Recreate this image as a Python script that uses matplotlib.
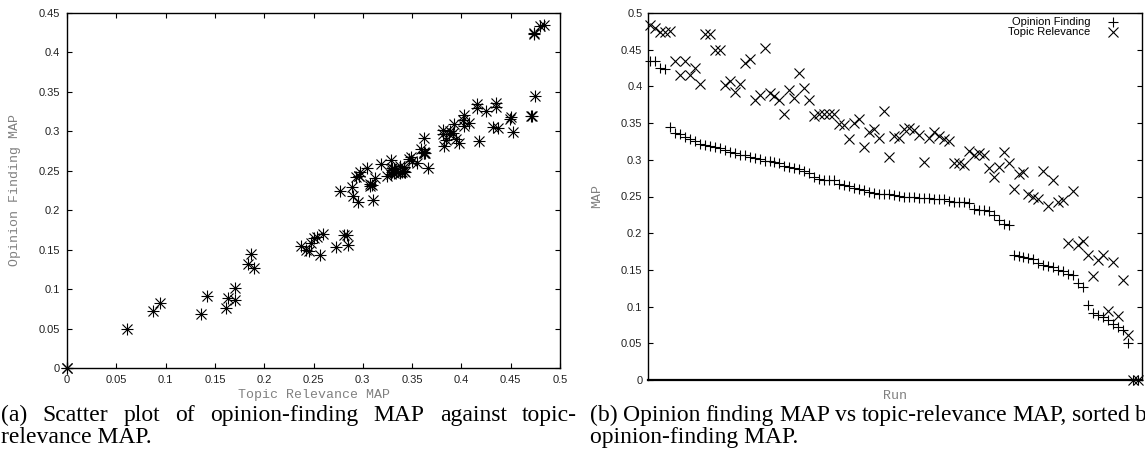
import matplotlib
matplotlib.use("Agg")
import matplotlib.pyplot as plt
import numpy as np

# MAP per run, sorted by opinion-finding MAP (same runs in both panels)
opinion_map = [
    0.435, 0.434, 0.425, 0.424, 0.345, 0.336, 0.335, 0.331, 0.329, 0.326,
    0.321, 0.320, 0.319, 0.318, 0.316, 0.314, 0.311, 0.309, 0.307, 0.306,
    0.304, 0.302, 0.301, 0.299, 0.298, 0.297, 0.296, 0.291, 0.290, 0.289,
    0.288, 0.285, 0.282, 0.277, 0.274, 0.273, 0.273, 0.272, 0.267, 0.265,
    0.264, 0.262, 0.260, 0.259, 0.256, 0.255, 0.254, 0.254, 0.253, 0.252,
    0.251, 0.250, 0.249, 0.249, 0.248, 0.248, 0.248, 0.247, 0.247, 0.246,
    0.244, 0.243, 0.243, 0.242, 0.241, 0.233, 0.232, 0.231, 0.230, 0.225,
    0.218, 0.213, 0.211, 0.170, 0.169, 0.168, 0.166, 0.165, 0.159, 0.156,
    0.155, 0.154, 0.150, 0.148, 0.145, 0.143, 0.132, 0.127, 0.102, 0.091,
    0.089, 0.086, 0.082, 0.076, 0.072, 0.068, 0.050, 0.0, 0.0,
]
topic_map = [
    0.484, 0.480, 0.474, 0.474, 0.475, 0.435, 0.416, 0.435, 0.416, 0.425,
    0.403, 0.472, 0.471, 0.450, 0.449, 0.402, 0.408, 0.392, 0.403, 0.432,
    0.437, 0.381, 0.388, 0.452, 0.391, 0.387, 0.381, 0.362, 0.395, 0.384,
    0.418, 0.398, 0.382, 0.359, 0.362, 0.363, 0.362, 0.362, 0.349, 0.347,
    0.329, 0.350, 0.355, 0.318, 0.338, 0.342, 0.330, 0.366, 0.304, 0.332,
    0.330, 0.342, 0.343, 0.340, 0.334, 0.297, 0.330, 0.338, 0.332, 0.329,
    0.325, 0.296, 0.296, 0.293, 0.312, 0.307, 0.309, 0.307, 0.289, 0.277,
    0.290, 0.310, 0.295, 0.260, 0.281, 0.284, 0.254, 0.250, 0.247, 0.285,
    0.237, 0.273, 0.242, 0.245, 0.187, 0.257, 0.184, 0.190, 0.170, 0.142,
    0.163, 0.170, 0.094, 0.161, 0.087, 0.136, 0.061, 0.0, 0.0,
]
runs = np.arange(1, len(opinion_map) + 1)

scatter_xticks = np.arange(0, 0.501, 0.05)
scatter_yticks = np.arange(0, 0.451, 0.05)
sorted_yticks = np.arange(0, 0.501, 0.05)

caption_a = ["(a) Scatter plot of opinion-finding MAP against topic-",
             "relevance MAP."]
caption_b = ["(b) Opinion finding MAP vs topic-relevance MAP, sorted by",
             "opinion-finding MAP."]

plt.rcParams["font.family"] = "Liberation Sans"
LABEL_GRAY = "#808080"
MONO = "Liberation Mono"
SERIF = "Liberation Serif"

W, H = 1145, 451
fig = plt.figure(figsize=(W / 100, H / 100), dpi=100)


def px_rect(x0, y0, x1, y1):
    return [x0 / W, 1 - y1 / H, (x1 - x0) / W, (y1 - y0) / H]


def fmt(v):
    return f"{v:.2f}".rstrip("0").rstrip(".")


ax1 = fig.add_axes(px_rect(67, 13, 560, 368))
ax2 = fig.add_axes(px_rect(648, 13, 1142, 380))

# (a) scatter, gnuplot-style asterisk = plus + cross
for m, ms in (("+", 8.5), ("x", 7.5)):
    ax1.plot(topic_map, opinion_map, linestyle="none", marker=m, ms=ms,
             mew=0.8, color="black", clip_on=False)
ax1.set_xlim(0, 0.5)
ax1.set_ylim(0, 0.45)
ax1.set_xticks(scatter_xticks)
ax1.set_xticklabels([fmt(v) for v in scatter_xticks])
ax1.set_yticks(scatter_yticks)
ax1.set_yticklabels([fmt(v) for v in scatter_yticks])
ax1.tick_params(direction="in", length=3.5, width=0.8, top=True, right=True,
                labelsize=8, pad=5, labelcolor="#222222")
ax1.set_xlabel("Topic Relevance MAP", family=MONO, fontsize=9.5, color=LABEL_GRAY)
ax1.set_ylabel("Opinion Finding MAP", family=MONO, fontsize=9.5, color=LABEL_GRAY)
ax1.xaxis.set_label_coords(0.5, -0.076)
ax1.xaxis.label.set_va("center")
ax1.yaxis.set_label_coords(-0.105, 0.5)
ax1.yaxis.label.set_va("center")

# (b) sorted runs
ax2.plot(runs, opinion_map, linestyle="none", marker="+", ms=7.5, mew=0.8,
         color="black", label="Opinion Finding", clip_on=False)
ax2.plot(runs, topic_map, linestyle="none", marker="x", ms=7.5, mew=0.8,
         color="black", label="Topic Relevance", clip_on=False)
ax2.set_xlim(0.6, len(runs) + 0.8)
ax2.set_ylim(0, 0.5)
ax2.set_xticks([])
ax2.set_yticks(sorted_yticks)
ax2.set_yticklabels([fmt(v) for v in sorted_yticks])
ax2.tick_params(axis="y", direction="in", length=3.5, width=0.8, right=True,
                labelsize=8, pad=4, labelcolor="#222222")
ax2.set_xlabel("Run", family=MONO, fontsize=9.5, color=LABEL_GRAY)
ax2.set_ylabel("MAP", family=MONO, fontsize=9.5, color=LABEL_GRAY)
ax2.xaxis.set_label_coords(0.5, -0.044)
ax2.xaxis.label.set_va("center")
ax2.yaxis.set_label_coords(-0.103, 0.5)
ax2.yaxis.label.set_va("center")
ax2.legend(loc="upper right", bbox_to_anchor=(0.955, 0.988), frameon=False,
           markerfirst=False, fontsize=8, handlelength=1.2,
           handletextpad=1.45, labelspacing=0.0, borderaxespad=0.0,
           borderpad=0.0)

for ax in (ax1, ax2):
    for sp in ax.spines.values():
        sp.set_linewidth(1.0)
ax2.spines["bottom"].set_linewidth(1.6)

# captions: first line justified word by word, second line left aligned
cap = dict(family=SERIF, fontsize=17, va="baseline", ha="left")
fig.canvas.draw()
renderer = fig.canvas.get_renderer()


def justified_line(text, x0, x_last, y):
    words = text.split()
    items = [fig.text(0, 1 - y / H, w, **cap) for w in words]
    widths = [t.get_window_extent(renderer).width for t in items]
    gap = (x_last - x0 - sum(widths[:-1])) / (len(words) - 1)
    x = x0
    for t, w in zip(items, widths):
        t.set_x(x / W)
        x += w + gap


justified_line(caption_a[0], 1, 522, 421)
justified_line(caption_b[0], 590, 1135, 421)
fig.text(1 / W, 1 - 443 / H, caption_a[1], **cap)
fig.text(590 / W, 1 - 443 / H, caption_b[1], **cap)

fig.savefig("out.png", dpi=100)
